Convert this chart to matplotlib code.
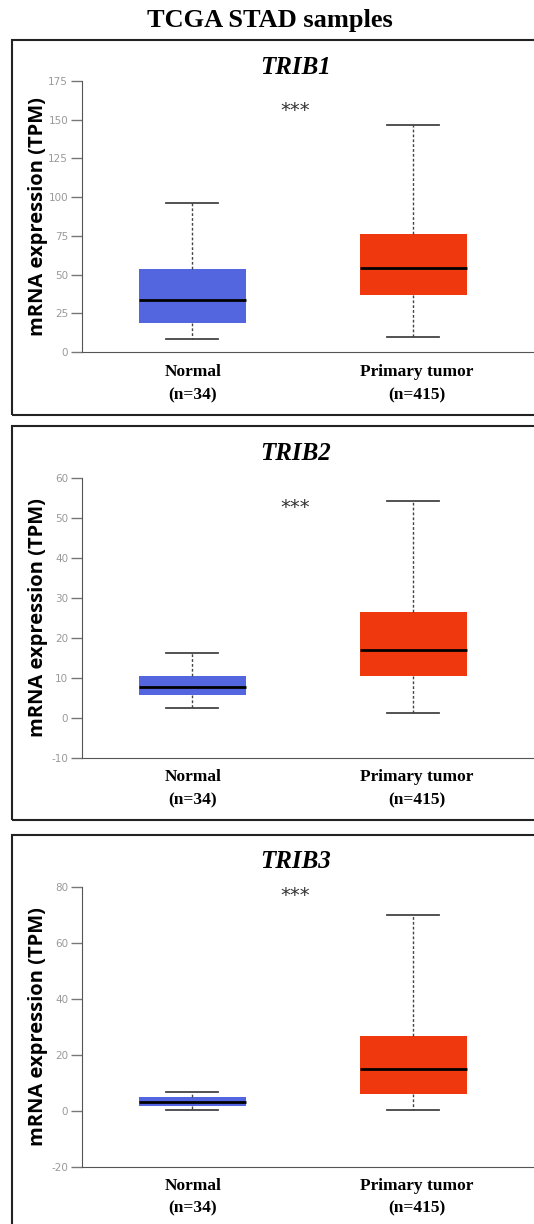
import matplotlib.pyplot as plt
from matplotlib.patches import Rectangle

plt.rcParams["axes.unicode_minus"] = False

genes = ["TRIB1", "TRIB2", "TRIB3"]
group_names = ["Normal", "Primary tumor"]
group_n = ["(n=34)", "(n=415)"]

# per gene: [whislo, q1, median, q3, whishi] for normal, tumor
normal_stats = [
    [8.5, 19, 33.8, 53.5, 96.5],
    [2.4, 5.6, 7.7, 10.4, 16.3],
    [0.5, 2.0, 3.4, 4.9, 7.0],
]
tumor_stats = [
    [9.8, 36.5, 54.5, 76.5, 146.5],
    [1.3, 10.5, 17.0, 26.5, 54.2],
    [0.5, 6.0, 15.0, 26.7, 70.0],
]
star_y = [156, 52.5, 77]
ylims = [(0, 175), (-10, 60), (-20, 80)]
yticks = [list(range(0, 176, 25)), list(range(-10, 61, 10)), list(range(-20, 81, 20))]

W, H = 534, 1224
fig = plt.figure(figsize=(W / 100, H / 100), dpi=100)

def fx(px):
    return px / W

def fy(py):
    return 1 - py / H

# panel geometry in pixels
panels = [
    dict(top=40, bottom=415, ax_top=81, ax_bot=352, title_y=67, lab_y=372, n_y=395),
    dict(top=426, bottom=820, ax_top=477.7, ax_bot=757.7, title_y=453, lab_y=777, n_y=800),
    dict(top=835, bottom=1260, ax_top=886.7, ax_bot=1167.3, title_y=862, lab_y=1186, n_y=1208),
]

fig.text(0.505, fy(20), "TCGA STAD samples", ha="center", va="center",
         family="Liberation Serif", weight="bold", fontsize=19)

blue = "#5466DF"
red = "#F0380E"

for i, p in enumerate(panels):
    fig.patches.append(Rectangle((fx(12), fy(p["bottom"])), fx(600), (p["bottom"] - p["top"]) / H,
                                 transform=fig.transFigure, fill=False, edgecolor="#222222",
                                 linewidth=1.5, figure=fig))
    ax = fig.add_axes([fx(82), fy(p["ax_bot"]), fx(452), (p["ax_bot"] - p["ax_top"]) / H])
    stats = []
    for s in (normal_stats[i], tumor_stats[i]):
        stats.append(dict(whislo=s[0], q1=s[1], med=s[2], q3=s[3], whishi=s[4], fliers=[]))
    bp = ax.bxp(stats, positions=[1, 2], widths=0.484, capwidths=0.235, patch_artist=True,
                showfliers=False,
                medianprops=dict(color="black", linewidth=2),
                whiskerprops=dict(color="#444444", linestyle=(0, (2, 1.5)), linewidth=1),
                capprops=dict(color="#444444", linewidth=1.3),
                boxprops=dict(linewidth=0))
    for patch, c in zip(bp["boxes"], [blue, red]):
        patch.set_facecolor(c)
    ax.set_xlim(0.502, 2.547)
    ax.set_ylim(*ylims[i])
    ax.set_yticks(yticks[i])
    ax.set_xticks([])
    ax.tick_params(axis="y", colors="#777777", labelsize=7.5, length=8, width=1, pad=2)
    ax.tick_params(axis="y", labelcolor="#999999")
    for side in ["top", "right"]:
        ax.spines[side].set_visible(False)
    ax.spines["left"].set_color("#555555")
    ax.spines["bottom"].set_color("#555555")
    ax.set_ylabel("mRNA expression (TPM)", family="Open Sans", weight="bold",
                  fontsize=14.5, color="black")
    ax.yaxis.set_label_coords(fx(48), fy((p["ax_top"] + p["ax_bot"]) / 2), transform=fig.transFigure)
    ax.text(1.466, star_y[i], "***", ha="center", va="center", fontsize=14, color="#333333",
            family="DejaVu Sans")
    fig.text(fx(296), fy(p["title_y"]), genes[i], ha="center", va="center",
             family="Liberation Serif", weight="bold", style="italic", fontsize=18)
    for xpos, name, n in zip([193, 417], group_names, group_n):
        fig.text(fx(xpos), fy(p["lab_y"]), name, ha="center", va="center",
                 family="Liberation Serif", weight="bold", fontsize=12.5)
        fig.text(fx(xpos), fy(p["n_y"]), n, ha="center", va="center",
                 family="Liberation Serif", weight="bold", fontsize=12.5)

fig.savefig("out.png", dpi=100)
